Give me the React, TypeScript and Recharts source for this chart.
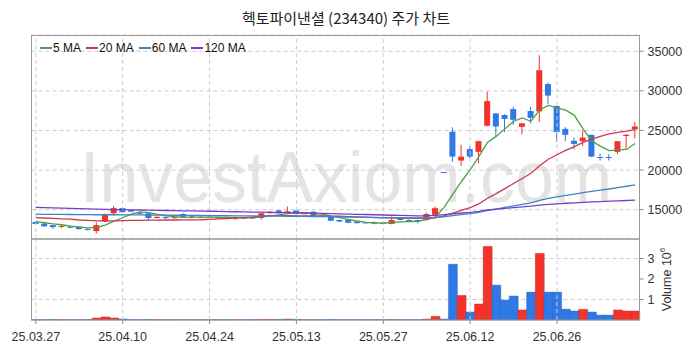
import React from "react";
import {
  ComposedChart,
  Bar,
  Line,
  XAxis,
  YAxis,
  CartesianGrid,
  ReferenceLine,
  Cell,
  Legend,
} from "recharts";

// trading days shown on the chart
const dates = [
  "25.03.27", "25.03.28", "25.03.31", "25.04.01", "25.04.02", "25.04.03", "25.04.04", "25.04.07", "25.04.08", "25.04.09",
  "25.04.10", "25.04.11", "25.04.14", "25.04.15", "25.04.16", "25.04.17", "25.04.18", "25.04.21", "25.04.22", "25.04.23",
  "25.04.24", "25.04.25", "25.04.28", "25.04.29", "25.04.30", "25.05.02", "25.05.07", "25.05.08", "25.05.09", "25.05.12",
  "25.05.13", "25.05.14", "25.05.15", "25.05.16", "25.05.19", "25.05.20", "25.05.21", "25.05.22", "25.05.23", "25.05.26",
  "25.05.27", "25.05.28", "25.05.29", "25.05.30", "25.06.02", "25.06.04", "25.06.05", "25.06.09", "25.06.10", "25.06.11",
  "25.06.12", "25.06.13", "25.06.16", "25.06.17", "25.06.18", "25.06.19", "25.06.20", "25.06.23", "25.06.24", "25.06.25",
  "25.06.26", "25.06.27", "25.06.30", "25.07.01", "25.07.02", "25.07.03", "25.07.04", "25.07.07", "25.07.08", "25.07.09",
];

const opens = [
  13450, 13250, 13050, 12850, 12850, 12850, 12550, 12300, 13500, 14550,
  15200, 14950, 14600, 14550, 13950, 14100, 14000, 14450, 14100, 14100,
  14100, 13950, 14100, 13950, 14000, 14100, 13950, 14550, 14900, 14600,
  14900, 14500, 14750, 14250, 14200, 13700, 13700, 13500, 13400, 13350,
  13350, 13200, 14000, 13700, 13700, 13700, 14350, 19750, 24850, 21200,
  22650, 22300, 25600, 27150, 26950, 27700, 25450, 27450, 27400, 30850,
  28100, 25200, 23700, 23650, 24450, 21650, 21650, 22300, 24300, 25150,
];
const highs = [
  13550, 13300, 13100, 13150, 12950, 12900, 12650, 13400, 14500, 15500,
  15300, 15000, 14650, 14600, 14150, 14150, 14100, 14550, 14350, 14150,
  14150, 14100, 14150, 14150, 14050, 14150, 14600, 14800, 14950, 15400,
  14950, 14650, 14800, 14300, 14250, 13750, 13750, 13550, 13450, 13500,
  13400, 14150, 14050, 13750, 13750, 14650, 15400, 19750, 25400, 23200,
  23000, 23700, 29900, 27200, 27050, 28000, 25950, 28000, 34500, 31050,
  28100, 25400, 24100, 25000, 24450, 22100, 22000, 23650, 24550, 26100,
];
const lows = [
  13100, 12850, 12550, 12700, 12650, 12500, 12400, 12000, 13400, 14300,
  14600, 14700, 14450, 13650, 13900, 13750, 13900, 14050, 13900, 13950,
  13950, 13900, 13950, 13700, 13900, 13850, 13750, 14500, 14500, 14550,
  14400, 14450, 14200, 14050, 13550, 13450, 13300, 13250, 13250, 13150,
  13200, 13150, 13650, 13450, 13250, 13600, 14000, 19750, 21050, 20500,
  21500, 20850, 25500, 24300, 24800, 25700, 24500, 25900, 26100, 28300,
  23600, 23650, 22600, 23050, 21650, 21200, 21200, 22000, 22700, 24000,
];
const closes = [
  13200, 12900, 12800, 12950, 12750, 12550, 12500, 13050, 14450, 15200,
  14700, 14750, 14500, 13950, 14100, 13950, 14050, 14100, 14150, 14000,
  14000, 14050, 14000, 14000, 13950, 13900, 14550, 14750, 14550, 14800,
  14450, 14550, 14250, 14100, 13600, 13500, 13350, 13300, 13300, 13300,
  13300, 13700, 13700, 13500, 13500, 14450, 15190, 19750, 21700, 21700,
  21700, 23650, 28700, 25500, 26450, 26350, 25900, 26600, 32600, 29400,
  24800, 24450, 23300, 24100, 21700, 21600, 21600, 23650, 24450, 25500,
];

// volume in millions of shares
const volumes = [
  0.02, 0.02, 0.03, 0.02, 0.02, 0.02, 0.03, 0.10, 0.15, 0.10,
  0.05, 0.03, 0.02, 0.03, 0.02, 0.02, 0.02, 0.02, 0.02, 0.02,
  0.02, 0.02, 0.02, 0.02, 0.02, 0.02, 0.03, 0.03, 0.03, 0.05,
  0.03, 0.02, 0.02, 0.02, 0.03, 0.02, 0.02, 0.02, 0.02, 0.02,
  0.02, 0.03, 0.02, 0.02, 0.02, 0.05, 0.18, 0.05, 2.72, 1.20,
  0.39, 0.78, 3.59, 1.70, 0.97, 1.17, 0.49, 1.36, 3.25, 1.36,
  1.36, 0.53, 0.44, 0.52, 0.39, 0.24, 0.24, 0.49, 0.44, 0.44,
];

const ma5 = [
  13500, 13350, 13200, 13100, 12920, 12790, 12710, 12760, 13060, 13550,
  13980, 14430, 14720, 14620, 14400, 14250, 14110, 14030, 14070, 14050,
  14060, 14060, 14040, 14010, 14000, 13980, 14080, 14230, 14340, 14510,
  14620, 14620, 14520, 14430, 14190, 14000, 13760, 13570, 13410, 13350,
  13310, 13380, 13460, 13500, 13540, 13770, 14070, 15280, 16920, 18560,
  20010, 21700, 23490, 24250, 25200, 26130, 26580, 26160, 27580, 28170,
  27860, 27570, 26910, 25210, 23670, 23030, 22460, 22530, 22600, 23360,
];
const ma20 = [
  14000, 13950, 13900, 13850, 13800, 13700, 13650, 13600, 13600, 13600,
  13620, 13640, 13660, 13680, 13690, 13700, 13700, 13710, 13720, 13730,
  13770, 13830, 13890, 13940, 14000, 14070, 14170, 14260, 14260, 14240,
  14230, 14220, 14210, 14210, 14190, 14170, 14130, 14090, 14050, 14010,
  13980, 13960, 13950, 13920, 13900, 13930, 13960, 14210, 14560, 14910,
  15270, 15730, 16450, 17020, 17660, 18300, 18930, 19600, 20560, 21370,
  21940, 22480, 22960, 23490, 23900, 24260, 24580, 24770, 24910, 25100,
];
const ma60 = [
  14430, 14420, 14410, 14400, 14390, 14380, 14370, 14360, 14360, 14360,
  14350, 14350, 14340, 14330, 14320, 14310, 14300, 14290, 14280, 14270,
  14260, 14250, 14240, 14230, 14220, 14210, 14200, 14190, 14180, 14170,
  14160, 14150, 14140, 14130, 14120, 14100, 14080, 14060, 14040, 14020,
  14000, 13990, 13980, 13970, 13960, 13980, 14020, 14110, 14240, 14370,
  14500, 14660, 14900, 15080, 15280, 15470, 15660, 15870, 16170, 16420,
  16610, 16800, 16970, 17160, 17310, 17460, 17610, 17790, 17960, 18130,
];
const ma120 = [
  15290, 15260, 15230, 15200, 15170, 15140, 15110, 15080, 15050, 15020,
  15000, 14980, 14960, 14940, 14920, 14900, 14880, 14860, 14840, 14820,
  14800, 14780, 14760, 14740, 14720, 14700, 14680, 14660, 14640, 14620,
  14600, 14580, 14560, 14540, 14510, 14480, 14450, 14420, 14390, 14360,
  14330, 14300, 14270, 14240, 14220, 14220, 14270, 14370, 14480, 14580,
  14660, 14780, 14960, 15060, 15170, 15270, 15360, 15450, 15580, 15670,
  15740, 15810, 15870, 15930, 15980, 16030, 16070, 16110, 16160, 16200,
];

const tickDates = ["25.03.27", "25.04.10", "25.04.24", "25.05.13", "25.05.27", "25.06.12", "25.06.26"];
const priceTicks = [15000, 20000, 25000, 30000, 35000];
const volumeTicks = [1, 2, 3];

const UP = "#f2322b";
const DOWN = "#2e79e6";
const GRID = "#cccccc";
const FONT = "'Liberation Sans', Arial, sans-serif";

const maLines = [
  { key: "ma5", name: "5 MA", color: "#4f9f45" },
  { key: "ma20", name: "20 MA", color: "#c93a4f" },
  { key: "ma60", name: "60 MA", color: "#3c86c6" },
  { key: "ma120", name: "120 MA", color: "#7a3dcb" },
];

const rows = dates.map((d, i) => ({
  d,
  o: opens[i],
  h: highs[i],
  l: lows[i],
  c: closes[i],
  rng: [lows[i], highs[i]],
  v: volumes[i],
  ma5: ma5[i],
  ma20: ma20[i],
  ma60: ma60[i],
  ma120: ma120[i],
}));

function Candle(props: any) {
  const { x, y, width, height, payload } = props;
  const { o, h, l, c } = payload;
  const col = c > o ? UP : DOWN;
  const top = Math.min(y, y + height);
  const span = Math.abs(height);
  const py = (v: number) => (h === l ? top : top + ((h - v) / (h - l)) * span);
  const cx = x + width / 2;
  const bTop = py(Math.max(o, c));
  const bBot = py(Math.min(o, c));
  return (
    <g>
      <line x1={cx} x2={cx} y1={py(h)} y2={py(l)} stroke={col} strokeWidth={1} />
      <rect x={x} y={bTop} width={width} height={Math.max(bBot - bTop, 1)} fill={col} />
    </g>
  );
}

function MaLegend() {
  return (
    <div style={{ display: "flex", fontFamily: FONT, fontSize: 12, color: "#111", lineHeight: "14px" }}>
      {maLines.map((m) => (
        <div key={m.key} style={{ display: "flex", alignItems: "center", marginRight: 5 }}>
          <div style={{ width: 12, height: 2, background: m.color, marginRight: 1 }} />
          {m.name}
        </div>
      ))}
    </div>
  );
}

function VolumeLabel(props: any) {
  const vb = props.viewBox || {};
  const cx = vb.x + 27;
  const cy = vb.y + vb.height / 2;
  return (
    <text
      x={cx}
      y={cy}
      transform={`rotate(-90, ${cx}, ${cy})`}
      textAnchor="middle"
      dominantBaseline="central"
      fontFamily={FONT}
      fontSize={12.5}
      fill="#333"
    >
      Volume 10<tspan dy={-5} fontSize={8}>6</tspan>
    </text>
  );
}

const tickStyle = { fontSize: 12.5, fill: "#333", fontFamily: FONT };

export default function App() {
  return (
    <div style={{ position: "fixed", left: 0, top: 0, width: 693, height: 353, background: "#fff" }}>
      <svg width={693} height={353} style={{ position: "absolute", left: 0, top: 0 }}>
        <text
          x={346}
          y={17}
          textAnchor="middle"
          dominantBaseline="central"
          fontFamily="'Noto Sans CJK KR', sans-serif"
          fontSize={15}
          fill="#222"
        >
          헥토파이낸셜 (234340) 주가 차트
        </text>
        <text
          x={80}
          y={202}
          fontFamily={FONT}
          fontSize={72}
          fill="#e4e4e4"
          textLength={532}
          lengthAdjust="spacingAndGlyphs"
        >
          InvestAxiom.com
        </text>
      </svg>

      <div style={{ position: "absolute", left: 0, top: 0 }}>
        <ComposedChart
          width={693}
          height={240}
          data={rows}
          margin={{ top: 35, right: 0, left: 31.5, bottom: 1 }}
        >
          <CartesianGrid vertical={false} stroke={GRID} strokeDasharray="4 3" />
          <XAxis dataKey="d" hide />
          <YAxis
            orientation="right"
            width={53.5}
            domain={[11300, 37050]}
            ticks={priceTicks}
            axisLine={false}
            tickSize={4}
            tickMargin={4}
            tickLine={{ stroke: "#888" }}
            tick={tickStyle}
          />
          {tickDates.map((t) => (
            <ReferenceLine key={t} x={t} stroke={GRID} strokeDasharray="4 3" />
          ))}
          <Legend
            verticalAlign="middle"
            align="center"
            layout="horizontal"
            wrapperStyle={{ top: 41, left: 40, width: "auto" }}
            content={() => <MaLegend />}
          />
          {maLines.map((m) => (
            <Line
              key={m.key}
              dataKey={m.key}
              name={m.name}
              type="linear"
              stroke={m.color}
              strokeWidth={1.3}
              dot={false}
              isAnimationActive={false}
            />
          ))}
          <Bar dataKey="rng" barSize={6} shape={Candle} isAnimationActive={false} legendType="none" />
        </ComposedChart>
      </div>

      <div style={{ position: "absolute", left: 0, top: 239 }}>
        <ComposedChart
          width={693}
          height={114}
          data={rows}
          margin={{ top: 0, right: 0, left: 31.5, bottom: 0 }}
          barCategoryGap={0}
        >
          <CartesianGrid vertical={false} stroke={GRID} strokeDasharray="4 3" />
          <XAxis
            dataKey="d"
            ticks={tickDates}
            interval={0}
            height={33}
            axisLine={false}
            tickSize={4}
            tickMargin={8}
            tickLine={{ stroke: "#888" }}
            tick={tickStyle}
          />
          <YAxis
            orientation="right"
            width={53.5}
            domain={[0, 3.95]}
            ticks={volumeTicks}
            axisLine={false}
            tickSize={4}
            tickMargin={4}
            tickLine={{ stroke: "#888" }}
            tick={tickStyle}
            label={{ content: (p: any) => <VolumeLabel {...p} /> }}
          />
          {tickDates.map((t) => (
            <ReferenceLine key={t} x={t} stroke={GRID} strokeDasharray="4 3" />
          ))}
          <Bar dataKey="v" isAnimationActive={false}>
            {rows.map((r, i) => (
              <Cell key={i} fill={r.c > r.o ? UP : DOWN} stroke={r.c > r.o ? "#c92a24" : "#2562bd"} strokeWidth={0.4} />
            ))}
          </Bar>
        </ComposedChart>
      </div>

      <svg width={693} height={353} style={{ position: "absolute", left: 0, top: 0, pointerEvents: "none" }}>
        <rect x={31.5} y={35.5} width={608} height={203.5} fill="none" stroke="#999" />
        <rect x={31.5} y={239} width={608} height={81} fill="none" stroke="#999" />
      </svg>
    </div>
  );
}
